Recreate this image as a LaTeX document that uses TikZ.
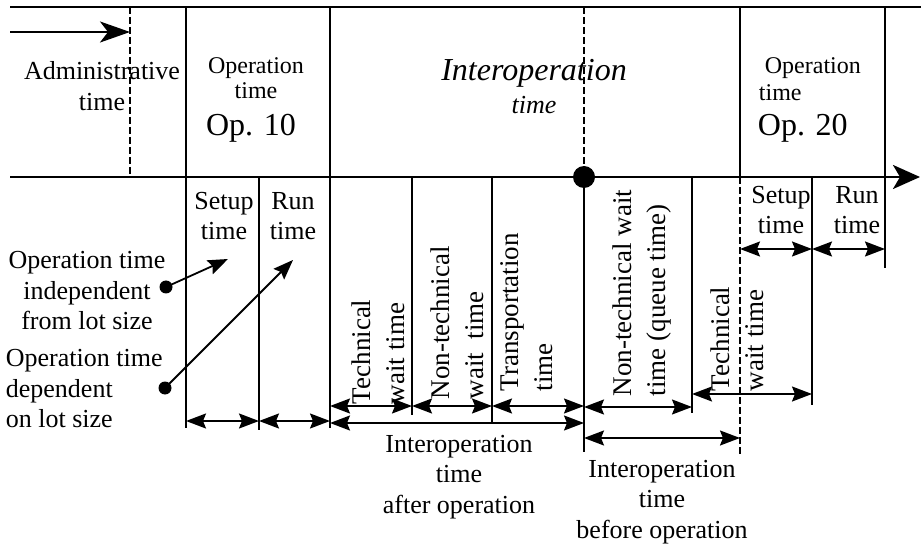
\documentclass[tikz,border=0pt]{standalone}
\usepackage{fontspec}
\setmainfont{Liberation Serif}
\usetikzlibrary{arrows.meta}

\begin{document}
\begin{tikzpicture}[x=1pt,y=-1pt,line width=1.8pt,
    txt/.style={inner sep=0pt,align=center,font=\fontsize{26}{30.5}\selectfont},
    vtxt/.style={inner sep=0pt,align=left,rotate=90,anchor=west,font=\fontsize{27}{34}\selectfont},
    dim/.style={{Stealth[length=20pt,width=15pt,inset=3pt]}-{Stealth[length=20pt,width=15pt,inset=3pt]}},
    ptr/.style={-{Stealth[length=20pt,width=15pt,inset=3pt]}},
    dashline/.style={dash pattern=on 7pt off 3pt},
    dot/.style={circle,fill,inner sep=0pt,minimum size=13pt}]
    \useasboundingbox (0,0) rectangle (921,545);
    \draw [line width=2.6pt](10,7) -- (921,7);
    \draw [line width=2.8pt,-{Stealth[length=27pt,width=24pt,inset=7pt]}] (10,177) -- (920,177);
    \draw [line width=2.2pt,-{Stealth[length=30pt,width=21pt,inset=8pt]}] (10,32) -- (130,32);
    % lignes verticales
    \draw [dashline](130,7) -- (130,177);
    \draw (186,7) -- (186,428);
    \draw (259,177) -- (259,430);
    \draw (330,7) -- (330,428);
    \draw (412,177) -- (412,415);
    \draw (492,177) -- (492,422);
    \draw [dashline](584,7) -- (584,177);
    \draw (584,177) -- (584,452);
    \draw (692,177) -- (692,413);
    \draw (740,7) -- (740,177);
    \draw [dashline](740,177) -- (740,457);
    \draw (812,177) -- (812,405);
    \draw (885,7) -- (885,268);
    \node [dot,minimum size=22pt] (jalon) at (584,177) {};
    % cotes
    \draw [dim](186,421) -- (259,421);
    \draw [dim](259,421) -- (330,421);
    \draw [dim](330,406) -- (412,406);
    \draw [dim](412,406) -- (492,406);
    \draw [dim](492,406) -- (584,406);
    \draw [dim](330,423) -- (584,423);
    \draw [dim](584,407) -- (692,407);
    \draw [dim](692,394) -- (812,394);
    \draw [dim](584,438) -- (740,438);
    \draw [dim](740,249) -- (812,249);
    \draw [dim](812,249) -- (885,249);
    % textes du haut
    \node [txt] (admin) at (102,86) {Administrative\\time};
    \node [txt,font=\fontsize{24}{25}\selectfont] (optime10) at (256,78) {Operation\\time};
    \node [txt,font=\fontsize{32}{36}\selectfont] (op10) at (251,128) {Op. 10};
    \node [txt,font=\fontsize{32}{36}\selectfont\itshape] (interop) at (534,73) {Interoperation};
    \node [txt,font=\fontsize{26}{30}\selectfont\itshape] (interoptime) at (534,105) {time};
    \node [txt,align=left,anchor=west,font=\fontsize{24}{27}\selectfont] (optime20) at (758,79) {\ Operation\\time};
    \node [txt,anchor=west,font=\fontsize{32}{36}\selectfont] (op20) at (757,128) {Op. 20};
    % textes du bas
    \node [txt] (setup10) at (224,216) {Setup\\time};
    \node [txt] (run10) at (293,216) {Run\\time};
    \node [txt] (setup20) at (781,210) {Setup\\time};
    \node [txt] (run20) at (857,210) {Run\\time};
    \node [vtxt] (techwait1) at (378,405) {Technical\\wait time};
    \node [vtxt] (nontech1) at (457,400) {Non-technical\\wait\ \ time};
    \node [vtxt] (transp) at (527,392) {Transportation\\time};
    \node [vtxt] (queue) at (642,397) {Non-technical wait\\time (queue time)};
    \node [vtxt] (techwait2) at (737,392) {Technical\\wait time};
    \node [txt] (after) at (459,477) {Interoperation\\time\\after operation};
    \node [txt] (before) at (662,502) {Interoperation\\time\\before operation};
    % lot size
    \node [txt] (indeptxt) at (87,291) {Operation time\\independent\\from lot size};
    \node [txt,align=left,anchor=west] (deptxt) at (5,389) {Operation time\\dependent\\on lot size};
    \node [dot] (indep) at (166,287) {};
    \node [dot] (dep) at (165,388) {};
    \coordinate (setupref) at (228,259);
    \coordinate (runref) at (293,260);
    \draw [ptr](indep.center) -- (setupref);
    \draw [ptr](dep.center) -- (runref);
\end{tikzpicture}
\end{document}
